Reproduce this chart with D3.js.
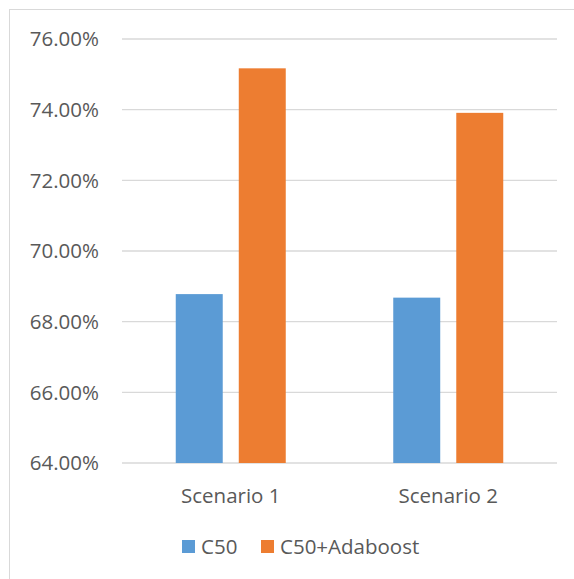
<!DOCTYPE html>
<html>
<head>
<meta charset="utf-8">
<script src="https://cdn.jsdelivr.net/npm/d3@7"></script>
<style>
  body { margin: 0; background: #fff; }
  svg { display: block; font-family: "Open Sans", sans-serif; }
</style>
</head>
<body>
<script>
var categories = ["Scenario 1", "Scenario 2"];
var seriesNames = ["C50", "C50+Adaboost"];
var c50Values = [68.78, 68.68];
var adaboostValues = [75.17, 73.91];
var yTicks = [64, 66, 68, 70, 72, 74, 76];
var colors = ["#5B9BD5", "#ED7D31"];

var svgWidth = 574;
var svgHeight = 579;
var margin = { top: 39, right: 17, bottom: 116, left: 122 };
var chartWidth = svgWidth - margin.left - margin.right;
var chartHeight = svgHeight - margin.top - margin.bottom;
var fontSize = "20.5px";

var svg = d3.select("body").append("svg")
  .attr("width", svgWidth)
  .attr("height", svgHeight);

// outer chart border
svg.append("rect")
  .attr("x", 9.5).attr("y", 9.5)
  .attr("width", svgWidth - 9).attr("height", svgHeight - 9)
  .attr("fill", "none")
  .attr("stroke", "#d9d9d9");

var chartGroup = svg.append("g")
  .attr("transform", `translate(${margin.left}, ${margin.top})`);

var xScale = d3.scaleBand()
  .domain(categories)
  .range([0, chartWidth]);

var xInner = d3.scaleBand()
  .domain(seriesNames)
  .range([xScale.bandwidth() / 2 - 55, xScale.bandwidth() / 2 + 55])
  .paddingInner(14 / 55);

var yScale = d3.scaleLinear()
  .domain([64, 76])
  .range([chartHeight, 0]);

// gridlines
chartGroup.selectAll(".grid")
  .data(yTicks)
  .enter()
  .append("line")
  .attr("x1", 0).attr("x2", chartWidth)
  .attr("y1", d => yScale(d)).attr("y2", d => yScale(d))
  .attr("stroke", "#d9d9d9")
  .attr("stroke-width", 1.3);

// y labels
chartGroup.selectAll(".ylab")
  .data(yTicks)
  .enter()
  .append("text")
  .attr("x", -23)
  .attr("y", d => yScale(d))
  .attr("dy", "0.36em")
  .attr("text-anchor", "end")
  .attr("fill", "#595959")
  .style("font-size", fontSize)
  .text(d => d.toFixed(2) + "%");

var rows = categories.map(function(c, i) {
  return { cat: c, values: [c50Values[i], adaboostValues[i]] };
});

var groups = chartGroup.selectAll(".cat")
  .data(rows)
  .enter()
  .append("g")
  .attr("transform", d => `translate(${xScale(d.cat)}, 0)`);

groups.selectAll("rect")
  .data(d => d.values.map((v, j) => ({ name: seriesNames[j], value: v, color: colors[j] })))
  .enter()
  .append("rect")
  .attr("x", d => xInner(d.name))
  .attr("width", xInner.bandwidth())
  .attr("y", d => yScale(d.value))
  .attr("height", d => chartHeight - yScale(d.value))
  .attr("fill", d => d.color);

// x labels
chartGroup.selectAll(".xlab")
  .data(categories)
  .enter()
  .append("text")
  .attr("x", d => xScale(d) + xScale.bandwidth() / 2)
  .attr("y", chartHeight + 40)
  .attr("text-anchor", "middle")
  .attr("fill", "#595959")
  .style("font-size", fontSize)
  .text(d => d);

// legend
var legendX = [182, 261];
var legend = svg.selectAll(".legend")
  .data(seriesNames)
  .enter()
  .append("g")
  .attr("transform", (d, i) => `translate(${legendX[i]}, 540)`);

legend.append("rect")
  .attr("width", 13).attr("height", 13)
  .attr("fill", (d, i) => colors[i]);

legend.append("text")
  .attr("x", 19)
  .attr("y", 14)
  .attr("fill", "#595959")
  .style("font-size", fontSize)
  .text(d => d);
</script>
</body>
</html>
